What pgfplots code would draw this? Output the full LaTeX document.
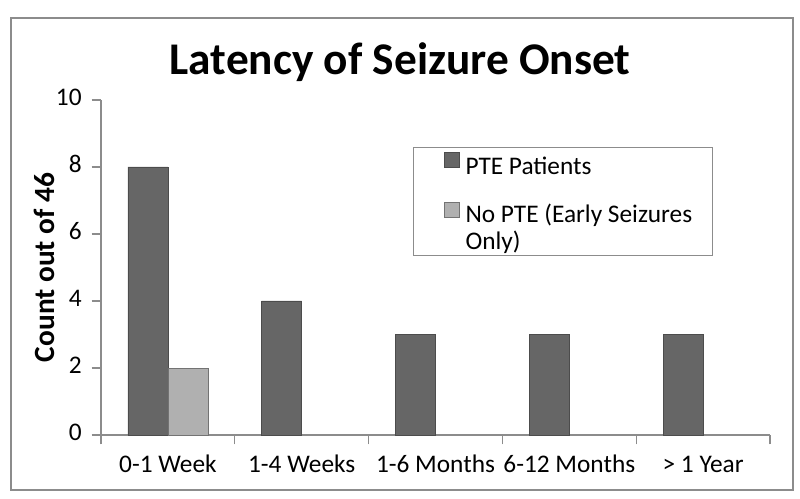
\documentclass[border=0pt]{standalone}
\usepackage{pgfplots}
\pgfplotsset{compat=1.18}
\usepackage{fontspec}
\setmainfont{Carlito}
\definecolor{ptedark}{RGB}{102,102,102}
\definecolor{ptelight}{RGB}{176,176,176}
\definecolor{axgrey}{RGB}{140,140,140}

\begin{document}
\begin{tikzpicture}
\begin{axis}[
  scale only axis,
  width=501.75pt, height=251.25pt,
  ybar=0pt, bar width=30pt,
  xmin=0, xmax=5,
  ymin=0, ymax=10,
  ytick={0,2,4,6,8,10},
  xtick={0,1,2,3,4,5},
  xticklabels={},
  extra x ticks={0.5,1.5,2.5,3.5,4.5},
  extra x tick labels={0-1 Week,1-4 Weeks,1-6 Months,6-12 Months,> 1 Year},
  extra x tick style={major tick length=0pt, tick label style={yshift=-10pt}},
  typeset ticklabels with strut,
  axis x line*=bottom, axis y line*=left,
  axis line style={axgrey, line width=1pt},
  x axis line style={-}, y axis line style={-},
  tick style={axgrey, line width=1pt},
  tick align=outside, major tick length=7pt,
  tick label style={font=\fontsize{19}{21}\selectfont},
  yticklabel style={xshift=-4pt},
  /pgf/number format/assume math mode=true,
  ylabel={\textbf{Count out of 46}},
  ylabel style={at={(rel axis cs:-0.084,0.5)}, anchor=center, font=\fontsize{22}{24}\selectfont},
  clip=false,
  legend style={at={(0.4664,0.8597)}, anchor=north west, draw=axgrey, line width=1pt,
    row sep=6.5pt,
    font=\fontsize{19}{20.25}\selectfont,
    nodes={inner sep=0pt},
    /tikz/every odd column/.append style={column sep=4.5pt},
    inner xsep=0pt, inner ysep=3pt},
  legend image code/.code={\path (0pt,0pt); \draw[#1, line width=0.6pt] (22.5pt,0pt) rectangle (33.75pt,11.25pt);},
  legend cell align=left,
]
\addplot[fill=ptedark, draw=black!70, line width=0.6pt] coordinates {(0.5,8) (1.5,4) (2.5,3) (3.5,3) (4.5,3)};
\addplot[fill=ptelight, draw=black!55, line width=0.6pt,
  legend image code/.code={\path (0pt,0pt) (0pt,31.5pt); \draw[fill=ptelight, draw=black!55, line width=0.6pt] (22.5pt,7.5pt) rectangle (33.75pt,18.75pt);}] coordinates {(0.5,2)};
\legend{PTE Patients, \parbox[b]{185pt}{\raggedright No PTE (Early Seizures\\Only)}}
\node[font=\bfseries\fontsize{34}{37}\selectfont] at (rel axis cs:0.447,1.113) {Latency of Seizure Onset};
\coordinate (fbl) at (rel axis cs:-0.1345,-0.164);
\coordinate (ftr) at (rel axis cs:1.0344,1.245);
\coordinate (bbl) at (rel axis cs:-0.151,-0.191);
\coordinate (btr) at (rel axis cs:1.0448,1.2985);
\end{axis}
\draw[axgrey, line width=1pt] (fbl) rectangle (ftr);
\pgfresetboundingbox
\useasboundingbox (bbl) rectangle (btr);
\end{tikzpicture}
\end{document}
